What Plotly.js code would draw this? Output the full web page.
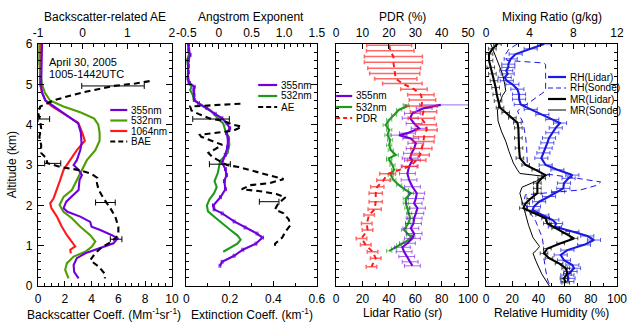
<!DOCTYPE html>
<html><head><meta charset="utf-8">
<script src="https://cdn.plot.ly/plotly-3.0.1.min.js"></script>
<style>html,body{margin:0;padding:0;background:#fff}#chart{width:638px;height:322px}</style>
</head><body><div id="chart"></div>
<script>
// ---------- Panel 1: backscatter coefficient (Mm-1 sr-1) and backscatter-related AE ----------
const bsc355Alt = [6.0,5.6,5.2,5.0,4.8,4.6,4.45,4.3,4.2,4.03,3.8,3.55,3.37,3.12,3.0,2.88,2.75,2.63,2.38,2.21,2.09,1.93,1.84,1.72,1.59,1.47,1.39,1.26,1.18,1.06,0.93,0.81,0.69,0.52,0.35,0.19];
const bsc355    = [0.3,0.3,0.25,0.22,0.3,0.55,1.2,1.9,2.3,3.0,3.2,3.25,3.16,2.9,2.66,3.03,3.28,3.1,3.03,2.53,2.11,1.91,2.2,3.16,3.9,4.0,4.65,5.52,5.94,5.64,4.52,3.53,2.9,2.66,2.7,3.03];
const bsc532Alt = [6.0,5.5,5.0,4.8,4.6,4.45,4.3,4.15,4.0,3.8,3.6,3.37,3.12,2.88,2.63,2.38,2.21,2.01,1.84,1.68,1.47,1.26,1.1,0.98,0.85,0.73,0.56,0.4,0.19];
const bsc532    = [0.1,0.1,0.3,0.5,0.9,1.9,3.2,4.2,4.5,4.6,4.6,4.28,3.65,3.28,2.9,2.53,1.91,1.61,1.9,2.53,3.16,3.9,4.28,4.03,3.53,2.66,2.15,2.03,2.28];
const bsc1064Alt = [6.0,5.5,5.0,4.8,4.6,4.45,4.25,4.05,3.8,3.6,3.37,3.12,2.88,2.63,2.38,2.17,2.05,1.93,1.72,1.47,1.26,1.1,0.98,0.9,0.81];
const bsc1064    = [0.15,0.15,0.15,0.3,0.55,1.05,2.0,3.0,3.3,3.5,2.9,2.41,1.91,1.66,1.41,1.16,0.91,1.0,1.41,1.78,2.16,2.53,2.78,2.41,2.45];
const baeAlt = [5.08,5.02,4.96,4.9,4.8,4.7,4.6,4.45,4.3,4.1,3.9,3.7,3.5,3.3,3.15,3.05,2.95,2.88,2.78,2.68,2.55,2.38,2.17,1.93,1.72,1.47,1.26,1.1,0.95,0.81,0.64,0.48,0.31,0.19];
const bae    = [1.5,1.18,0.69,0.4,0.0,-0.35,-0.65,-0.95,-1.0,-0.95,-0.93,-0.97,-0.93,-0.93,-0.8,-0.8,-0.5,-0.1,0.2,0.33,0.32,0.36,0.47,0.62,0.73,0.8,0.8,0.65,0.42,0.28,0.17,0.36,0.49,0.5];
const baeErrAlt = [4.96,4.14,3.04,2.07,1.16];
const baeErrVal = [0.68,-0.87,-0.67,0.51,0.75];
const baeErr    = [0.70,0.13,0.18,0.22,0.13];

// ---------- Panel 2: extinction coefficient (km-1) and Angstrom exponent ----------
const ext355Alt = [6.0,5.85,5.73,5.6,5.45,5.3,5.15,5.03,4.94,4.86,4.74,4.61,4.53,4.41,4.27,4.16,4.03,3.91,3.79,3.66,3.45,3.25,3.05,2.9,2.75,2.6,2.4,2.2,2.0,1.9,1.8,1.6,1.45,1.3,1.2,1.05,0.9,0.75,0.6,0.5];
const ext355    = [0.011,0.012,0.018,0.01,0.01,0.01,0.008,0.015,0.037,0.035,0.036,0.037,0.057,0.095,0.133,0.164,0.187,0.2,0.185,0.192,0.19,0.179,0.165,0.18,0.185,0.175,0.18,0.157,0.125,0.128,0.165,0.22,0.27,0.325,0.35,0.32,0.26,0.22,0.165,0.155];
const ext532Alt = [6.0,5.85,5.73,5.6,5.45,5.3,5.15,5.03,4.94,4.86,4.74,4.61,4.53,4.36,4.2,4.03,3.85,3.7,3.5,3.3,3.1,2.9,2.8,2.6,2.45,2.3,2.15,2.0,1.85,1.7,1.55,1.4,1.25,1.15,1.05,0.95,0.85];
const ext532    = [0.008,0.01,0.012,0.002,0.008,0.008,0.006,0.01,0.025,0.018,0.03,0.035,0.057,0.11,0.141,0.17,0.18,0.195,0.198,0.19,0.156,0.15,0.145,0.13,0.14,0.128,0.107,0.095,0.1,0.133,0.165,0.2,0.236,0.25,0.235,0.2,0.17];
const aeAlt = [4.52,4.5,4.48,4.45,4.35,4.25,4.15,4.1,4.0,3.95,3.85,3.8,3.75,3.7,3.6,3.5,3.4,3.3,3.2,3.1,3.0,2.95,2.85,2.75,2.65,2.55,2.5,2.4,2.35,2.28,2.2,2.05,1.9,1.8,1.65,1.5,1.35,1.2,1.05,0.9];
const ae    = [0.33,0.12,-0.18,-0.44,-0.42,-0.29,-0.13,0.05,0.22,0.35,0.22,-0.03,-0.29,-0.27,-0.1,0.05,-0.05,-0.16,-0.1,0.02,0.12,0.3,0.53,0.73,0.99,0.78,0.48,0.35,0.63,0.88,1.02,0.91,0.86,0.99,1.07,1.09,1.02,0.97,0.86,0.86];
const aeErrAlt = [4.14,3.02,2.09];
const aeErrVal = [-0.12,0.015,0.77];
const aeErr    = [0.28,0.16,0.15];

// ---------- Panel 3: lidar ratio (sr) and PDR (%) ----------
const lr355Alt = [4.49,4.41,4.28,4.16,4.03,3.91,3.79,3.74,3.66,3.54,3.41,3.29,3.17,3.12,2.96,2.79,2.63,2.46,2.30,2.17,2.05,1.93,1.80,1.68,1.55,1.43,1.30,1.18,1.06,0.96,0.85,0.73,0.60,0.50];
const lr355    = [79.3,66.7,57.8,56.1,59.1,62.9,54.0,47.7,56.6,60.4,59.1,57.1,56.1,57.8,55.3,54.0,55.3,57.8,61.1,60.4,59.1,61.6,60.4,59.1,58.6,56.6,59.1,57.8,54.0,50.2,51.5,53.5,56.1,57.8];
const lr355ErrPlus  = [21,6,6,6,6,6,6,6,6,6,6,6,6,6,6,6,6,6,6,6,6,6,6,6,6,6,6,6,6,6,6,6,6,6];
const lr355ErrMinus = [16,6,6,6,6,6,6,6,6,6,6,6,6,6,6,6,6,6,6,6,6,6,6,6,6,6,6,6,6,6,6,6,6,6];
const lr532Alt = [4.49,4.45,4.37,4.24,4.12,3.99,3.87,3.74,3.62,3.49,3.37,3.25,3.17,3.12,3.0,2.88,2.75,2.63,2.5,2.38,2.30,2.17,2.05,1.93,1.80,1.68,1.55,1.39,1.26,1.22,1.10,1.01,0.93,0.87];
const lr532    = [52.8,53.5,47.7,43.9,40.2,37.6,40.2,38.9,40.9,40.2,41.4,45.2,40.2,40.2,42.7,43.9,41.4,43.4,47.7,52.8,56.6,52.8,52.8,54.0,55.3,56.1,54.6,51.5,55.3,57.8,52.8,47.7,43.9,40.2];
const pdrAlt = [5.97,5.83,5.69,5.55,5.40,5.27,5.14,5.02,4.88,4.74,4.61,4.46,4.32,4.16,4.00,3.87,3.70,3.58,3.41,3.25,3.12,2.97,2.78,2.62,2.46,2.30,2.09,1.90,1.76,1.55,1.39,1.18,1.02,0.85,0.69,0.48];
const pdr    = [20.1,20.5,21.7,21.7,22.0,22.2,22.6,25.1,29.5,32.1,32.7,32.3,33.1,32.3,34.0,34.3,33.3,33.1,32.3,31.8,30.5,28.0,19.5,17.9,15.6,15.0,15.0,14.6,12.5,11.6,11.9,9.6,11.2,13.8,15.0,13.4];
const pdrErr = [8.5,9,11,11,10,9.5,8,7.5,5,5,5,6,5,5,4,4,4,4,4,3.5,3.5,3,3,2.5,2.5,2.5,2.5,2.5,2,2,2,2,2,2,2,2];

// ---------- Panel 4: relative humidity (%) and mixing ratio (g/kg) ----------
const rhLidarAlt = [6.0,5.88,5.75,5.63,5.50,5.42,5.34,5.26,5.17,5.09,5.0,4.88,4.75,4.63,4.50,4.38,4.25,4.13,4.04,3.92,3.80,3.67,3.55,3.42,3.30,3.17,3.0,2.88,2.75,2.67,2.55,2.42,2.34,2.22,2.09,1.97,1.88,1.76,1.64,1.55,1.47,1.35,1.24,1.14,1.02,0.89,0.77,0.64,0.52,0.44,0.36,0.27,0.19,0.11];
const rhLidar    = [44.3,34.1,22.6,18.8,17.0,17.0,15.4,16.5,14.2,15.8,20.1,23.9,25.2,25.2,26.5,34.1,43.0,50.6,56.5,53.2,50.6,48.1,46.8,45.5,43.8,42.2,45.5,54.5,65.9,63.0,59.5,59.0,55.0,48.1,40.5,36.6,35.5,43.0,50.6,53.5,52.5,65.9,77.3,82.4,74.8,62.1,57.0,59.5,65.9,67.2,64.5,62.1,63.0,62.1];
const rhSondeAlt = [6.0,5.88,5.75,5.59,5.53,5.49,4.84,4.72,4.59,4.47,4.34,4.22,4.09,3.92,3.67,3.42,3.05,2.95,2.79,2.67,2.58,2.50,2.38,2.32,2.26,2.1,1.9,1.6,1.3,1.19,0.94,0.72,0.40,0.15,0.0];
const rhSonde    = [24,17.6,15,16,44,45.5,45.5,40.4,34.1,29,24,25.5,27.7,29,30.3,31,31.5,33,43,69.7,87.5,85,72,50,30,29,32,38,42,43,44,44,45.5,47,49];
const mrLidarAlt = [6.0,5.88,5.75,5.59,5.42,5.26,5.09,4.92,4.75,4.59,4.42,4.30,4.17,4.05,3.92,3.67,3.42,3.17,3.0,2.88,2.75,2.67,2.55,2.42,2.30,2.17,2.05,1.93,1.80,1.68,1.55,1.43,1.30,1.18,1.06,0.93,0.81,0.69,0.56,0.44,0.31,0.19,0.08];
const mrLidar    = [1.04,0.58,0.27,0.27,0.43,0.58,0.73,0.88,0.98,1.1,1.28,1.8,2.41,2.87,2.96,2.96,3.02,3.1,3.63,4.55,5.46,5.1,4.7,4.7,4.7,4.09,3.63,3.42,4.4,5.46,5.62,6.38,7.3,8.06,6.84,5.62,5.31,5.77,6.69,7.3,7.45,7.14,7.3];
const mrSondeAlt = [6.0,5.75,5.50,5.26,5.0,4.84,4.72,4.50,4.34,4.09,3.84,3.59,3.34,3.05,2.88,2.79,2.72,2.6,2.45,2.30,2.1,1.8,1.5,1.2,0.98,0.88,0.81,0.6,0.3,0.0];
const mrSonde    = [0.43,0.8,1.19,1.5,1.71,1.8,1.5,1.19,1.04,1.1,1.4,1.8,2.1,2.5,2.87,3.1,5.3,4.6,3.3,3.1,3.3,3.6,3.9,4.3,4.9,4.6,4.3,4.6,5.1,5.8];

// ---------- styling / layout helpers ----------
const PURPLE = '#7000DD', GREEN1 = '#4E9E00', GREEN2 = '#1F9A1F', RED = '#FF1A1A', BLUE = '#1A1AE0', BLACK = '#000000';
const FAM = 'Liberation Sans, Arial, Helvetica, sans-serif';
const LW = 2.1;
const L = 37.7, R = 617, T = 44, B = 286;
const PX = X => (X - L) / (R - L);
const PY = Y => (B - Y) / (B - T);

function tr(x, y, xa, ya, color, width, dash, extra) {
  return Object.assign({type: 'scatter', mode: 'lines', x: x, y: y, xaxis: xa, yaxis: ya,
    line: {color: color, width: width, dash: dash || 'solid'}, hoverinfo: 'skip', showlegend: false}, extra || {});
}
function errOnly(x, y, err, xa, ya, color) {
  return {type: 'scatter', mode: 'markers', x: x, y: y, xaxis: xa, yaxis: ya,
    marker: {size: 1, color: 'rgba(0,0,0,0)'}, hoverinfo: 'skip', showlegend: false,
    error_x: {type: 'data', array: err, symmetric: true, color: color, thickness: 1, width: 3}};
}

const traces = [
  tr(bsc1064, bsc1064Alt, 'x', 'y', RED, LW),
  tr(bsc532, bsc532Alt, 'x', 'y', GREEN1, LW),
  tr(bsc355, bsc355Alt, 'x', 'y', PURPLE, LW),
  tr(bae, baeAlt, 'x5', 'y', BLACK, LW, '6px,4px'),
  errOnly(baeErrVal, baeErrAlt, baeErr, 'x5', 'y', BLACK),

  tr(ext532, ext532Alt, 'x2', 'y2', GREEN2, LW),
  tr(ext355, ext355Alt, 'x2', 'y2', PURPLE, LW, null,
     {error_x: {type: 'constant', value: 0.004, color: PURPLE, thickness: 1, width: 2}}),
  tr(ae, aeAlt, 'x6', 'y2', BLACK, LW, '6px,4px'),
  errOnly(aeErrVal, aeErrAlt, aeErr, 'x6', 'y2', BLACK),

  tr(pdr, pdrAlt, 'x7', 'y3', RED, 2, '5px,4px',
     {error_x: {type: 'data', array: pdrErr, color: 'rgba(255,40,40,0.7)', thickness: 1.5, width: 2}}),
  tr(lr532, lr532Alt, 'x3', 'y3', GREEN2, LW, null,
     {error_x: {type: 'constant', value: 2, color: 'rgba(31,154,31,0.6)', thickness: 1, width: 2}}),
  tr(lr355, lr355Alt, 'x3', 'y3', PURPLE, LW, null,
     {error_x: {type: 'data', array: lr355ErrPlus, arrayminus: lr355ErrMinus, symmetric: false,
                color: 'rgba(112,0,221,0.6)', thickness: 1, width: 2}}),

  tr(rhSonde, rhSondeAlt, 'x4', 'y4', BLUE, 1, '6px,4px'),
  tr(mrSonde, mrSondeAlt, 'x8', 'y4', BLACK, 1),
  tr(rhLidar, rhLidarAlt, 'x4', 'y4', BLUE, LW, null,
     {error_x: {type: 'constant', value: 5, color: 'rgba(26,26,224,0.7)', thickness: 1, width: 2}}),
  tr(mrLidar, mrLidarAlt, 'x8', 'y4', BLACK, LW, null,
     {error_x: {type: 'constant', value: 0.35, color: 'rgba(0,0,0,0.65)', thickness: 1, width: 2}})
];

const tickFont = {family: FAM, size: 12, color: '#000'};
function xax(domain, range, tickvals, ticktext, minor, side) {
  const a = {domain: domain, range: range, side: side,
    tickmode: 'array', tickvals: tickvals, ticktext: ticktext, ticks: 'inside', ticklen: 5,
    tickwidth: 1, tickcolor: '#000', showline: true, linecolor: '#000', linewidth: 1.2,
    showgrid: false, zeroline: false, tickfont: tickFont, ticklabelstandoff: 1, fixedrange: true};
  if (minor) a.minor = {ticks: 'inside', dtick: minor, tick0: range[0], ticklen: 3, tickwidth: 1, tickcolor: '#000', showgrid: false};
  return a;
}
function yax(anchor, labels) {
  return {domain: [0, 1], range: [0, 6], anchor: anchor, tickmode: 'linear', tick0: 0, dtick: 1,
    ticks: 'inside', ticklen: 6, tickwidth: 1, tickcolor: '#000', showline: true, mirror: 'ticks',
    linecolor: '#000', linewidth: 1.2, showgrid: false, zeroline: false, showticklabels: labels,
    tickfont: tickFont, ticklabelstandoff: 2, fixedrange: true,
    minor: {ticks: 'inside', dtick: 0.2, tick0: 0, ticklen: 3, tickwidth: 1, tickcolor: '#000', showgrid: false}};
}
const d1 = [0, PX(171.7)], d2 = [PX(186), PX(316.7)], d3 = [PX(336), PX(468)], d4 = [PX(486), 1];

const layout = {
  width: 638, height: 322, margin: {l: L, r: 638 - R, t: T, b: 322 - B, pad: 0},
  paper_bgcolor: '#fff', plot_bgcolor: '#fff', showlegend: false,
  font: {family: FAM, size: 12, color: '#000'},
  xaxis:  Object.assign(xax(d1, [0, 10], [0,2,4,6,8,10], ['0','2','4','6','8','10'], 0.5, 'bottom'), {anchor: 'y'}),
  xaxis2: Object.assign(xax(d2, [0, 0.6], [0,0.2,0.4,0.6], ['0','0.2','0.4','0.6'], 0.1, 'bottom'), {anchor: 'y2'}),
  xaxis3: Object.assign(xax(d3, [0, 100], [0,20,40,60,80,100], ['0','20','40','60','80','100'], 10, 'bottom'), {anchor: 'y3'}),
  xaxis4: Object.assign(xax(d4, [0, 100], [0,20,40,60,80,100], ['0','20','40','60','80','100'], 10, 'bottom'), {anchor: 'y4'}),
  xaxis5: Object.assign(xax(d1, [-1, 2], [-1,0,1,2], ['-1','0','1','2'], 0.25, 'top'), {anchor: 'y', overlaying: 'x'}),
  xaxis6: Object.assign(xax(d2, [-0.5, 1.5], [-0.5,0,0.5,1,1.5], ['-0.5','0','0.5','1.0','1.5'], 0.1, 'top'), {anchor: 'y2', overlaying: 'x2'}),
  xaxis7: Object.assign(xax(d3, [0, 50], [0,10,20,30,40,50], ['0','10','20','30','40','50'], null, 'top'), {anchor: 'y3', overlaying: 'x3'}),
  xaxis8: Object.assign(xax(d4, [0, 12], [0,4,8,12], ['0','4','8','12'], 1, 'top'), {anchor: 'y4', overlaying: 'x4'}),
  yaxis: yax('x', true), yaxis2: yax('x2', false), yaxis3: yax('x3', false), yaxis4: yax('x4', false),
  shapes: [], annotations: []
};

function ann(text, X, Y, opts) {
  layout.annotations.push(Object.assign({text: text, xref: 'paper', yref: 'paper', x: PX(X), y: PY(Y),
    showarrow: false, xanchor: 'center', yanchor: 'middle', font: {family: FAM, size: 12, color: '#000'}}, opts || {}));
}
// titles
ann('Backscatter-related AE', 104.7, 17);
ann('Angstrom Exponent', 251.3, 17);
ann('PDR (%)', 402, 17);
ann('Mixing Ratio (g/kg)', 551.5, 17);
ann('Backscatter Coeff. (Mm<sup>-1</sup>sr<sup>-1</sup>)', 104, 313.5);
ann('Extinction Coeff. (km<sup>-1</sup>)', 252, 313.5);
ann('Lidar Ratio (sr)', 402, 313);
ann('Relative Humidity (%)', 551.5, 313);
ann('Altitude (km)', 12, 165, {textangle: -90});
ann('April 30, 2005', 47, 62, {xanchor: 'left', font: {family: FAM, size: 11, color: '#000'}});
ann('1005-1442UTC', 47, 74, {xanchor: 'left', font: {family: FAM, size: 11, color: '#000'}});

// legends (line sample + label)
function leg(X0, X1, Y, color, width, dash, label) {
  layout.shapes.push({type: 'line', xref: 'paper', yref: 'paper', x0: PX(X0), x1: PX(X1), y0: PY(Y), y1: PY(Y),
    line: {color: color, width: width, dash: dash || 'solid'}});
  ann(label, X1 + 2, Y, {xanchor: 'left', font: {family: FAM, size: 10, color: '#000'}});
}
leg(110, 127, 110, PURPLE, 2.2, null, '355nm');
leg(110, 127, 120.5, GREEN1, 2.2, null, '532nm');
leg(110, 127, 131, RED, 2.2, null, '1064nm');
leg(110, 127, 141.5, BLACK, 2.2, '5px,3px', 'BAE');
leg(258, 277, 85, PURPLE, 2.2, null, '355nm');
leg(258, 277, 96, GREEN2, 2.2, null, '532nm');
leg(258, 277, 107, BLACK, 2.2, '5px,3px', 'AE');
leg(336, 352, 96, PURPLE, 2.2, null, '355nm');
leg(336, 352, 107, GREEN2, 2.2, null, '532nm');
leg(336, 352, 118, RED, 2.2, '4px,3px', 'PDR');
leg(548, 566, 77, BLUE, 2.2, null, 'RH(Lidar)');
leg(548, 566, 88, BLUE, 1, '5px,3px', 'RH(Sonde)');
leg(548, 566, 99, BLACK, 2.2, null, 'MR(Lidar)');
leg(548, 566, 110, BLACK, 1, null, 'MR(Sonde)');

Plotly.newPlot('chart', traces, layout, {staticPlot: true, displayModeBar: false});
</script></body></html>
